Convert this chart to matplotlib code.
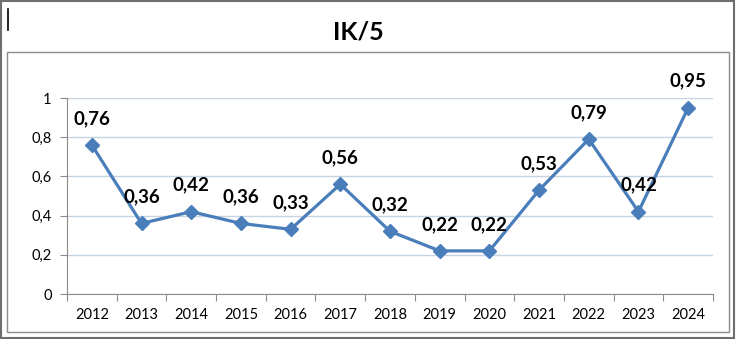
import matplotlib
matplotlib.use("Agg")
import matplotlib.pyplot as plt
from matplotlib.patches import Rectangle
from matplotlib.lines import Line2D
import numpy as np

years = ["2012", "2013", "2014", "2015", "2016", "2017", "2018", "2019", "2020", "2021", "2022", "2023", "2024"]
values = [0.76, 0.36, 0.42, 0.36, 0.33, 0.56, 0.32, 0.22, 0.22, 0.53, 0.79, 0.42, 0.95]
yticks = [0, 0.2, 0.4, 0.6, 0.8, 1.0]
ytick_labels = ["0", "0,2", "0,4", "0,6", "0,8", "1"]
title = "IK/5"

plt.rcParams['font.family'] = ['Lato', 'DejaVu Sans']

W, H = 736, 339
fig = plt.figure(figsize=(W/100, H/100), dpi=100)

# outer border
fig.patches.append(Rectangle((0.5/W, 1.5/H), (W-2.5)/W, (H-2.5)/H, transform=fig.transFigure,
                             fill=False, edgecolor='#6e6e6e', linewidth=1.5))
# chart area border
fig.patches.append(Rectangle((7/W, 1-332/H), (729-7)/W, (332-52)/H, transform=fig.transFigure,
                             fill=False, edgecolor='#8c8c8c', linewidth=1.0))
# text cursor
fig.lines.append(Line2D([7.5/W, 7.5/W], [1-9/H, 1-30/H], transform=fig.transFigure,
                        color='black', linewidth=1.2))

ax = fig.add_axes([67/W, 1-294/H, (713-67)/W, (294-98)/H])
x = np.arange(len(years))
ax.plot(x, values, color='#4a7ebb', linewidth=2.3, marker='D', markersize=7.5,
        markerfacecolor='#4a7ebb', markeredgecolor='#4a7ebb', zorder=3, clip_on=False)
for xi, v in zip(x, values):
    ax.annotate(f"{v:.2f}".replace('.', ','), (xi, v), xytext=(0, 13), textcoords='offset points',
                ha='center', va='bottom', fontsize=13.5, fontweight='bold', color='black')

ax.set_xlim(-0.5, len(years)-0.5)
ax.set_ylim(0, 1)
ax.set_yticks(yticks)
ax.set_yticklabels(ytick_labels)
ax.set_xticks(np.arange(-0.5, len(years), 1.0))
ax.set_xticklabels([])
ax.set_xticks(x, minor=True)
ax.set_xticklabels(years, minor=True)
ax.tick_params(axis='x', which='major', length=5, color='#8c8c8c', direction='out')
ax.tick_params(axis='x', which='minor', length=0, pad=10, labelsize=10.5)
ax.tick_params(axis='y', length=5, color='#8c8c8c', labelsize=10.5, pad=6)
ax.grid(axis='y', color='#c6d3e3', linewidth=1.0)
ax.set_axisbelow(True)
for s in ['top', 'right']:
    ax.spines[s].set_visible(False)
for s in ['left', 'bottom']:
    ax.spines[s].set_color('#8c8c8c')
ax.spines['bottom'].set_zorder(2)

fig.text(358/W, 1-32/H, title, ha='center', va='center', fontsize=18, fontweight='bold')

fig.savefig("out.png", dpi=100)
